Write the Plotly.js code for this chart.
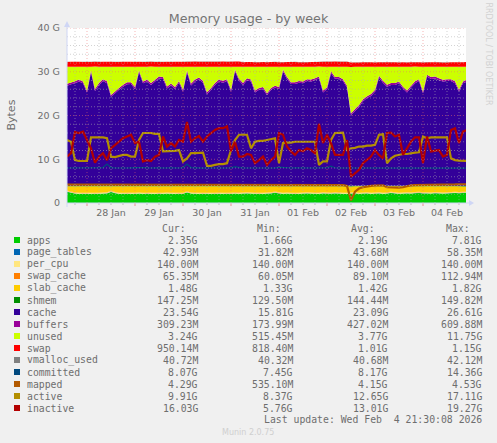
<!DOCTYPE html>
<html><head><meta charset="utf-8">
<script src="https://cdn.plot.ly/plotly-3.0.1.min.js"></script>
<style>html,body{margin:0;padding:0;background:#f0f0f0}</style>
</head><body><div id="chart" style="width:497px;height:443px"></div>
<script>
// values in GiB, one reading every two hours from 27 Jan 14:00
const apps=[2.6,2.35,2.15,2.1,2.05,2.1,2.1,2.05,2.1,2.15,
2.2,2.5,2.25,2.1,2.1,2.05,2.1,2.1,2.15,2.1,
2.05,2.1,2.1,2.05,2.1,2.15,2.1,2.1,2.05,2.1,
2.4,2.15,2.1,2.1,2.05,2.1,2.1,2.05,2.1,2.1,
2.05,2.1,2.15,2.1,2.15,2.2,2.15,2.1,2.05,2.1,
2.15,2.2,2.35,2.2,2.1,2.15,2.1,2.05,2.1,2.15,
2.2,2.15,2.1,2.1,2.2,2.15,2.1,2.2,2.15,2.1,
2.1,2.15,2.2,2.1,2.15,2.2,2.1,2.15,2.2,2.1,
2.15,2.3,2.2,2.1,2.15,2.2,2.15,2.25,2.3,2.2,
2.2,2.15,2.25,2.2,2.15,2.2,2.25,2.3,2.25,2.3,2.35];
const page_tables=[.04,.04,.04,.04,.04,.04,.04,.04,.04,.04,
.04,.05,.04,.04,.04,.04,.04,.04,.04,.04,
.04,.04,.04,.04,.04,.04,.04,.04,.04,.04,
.05,.04,.04,.04,.04,.04,.04,.04,.04,.04,
.04,.04,.05,.04,.04,.04,.04,.04,.04,.04,
.04,.04,.05,.04,.04,.04,.04,.04,.04,.04,
.04,.04,.04,.04,.04,.04,.05,.04,.04,.04,
.04,.03,.04,.04,.04,.04,.04,.04,.05,.04,
.04,.05,.04,.04,.04,.04,.04,.05,.04,.04,
.05,.04,.04,.04,.04,.04,.04,.05,.04,.04,.04];
const per_cpu=[.14,.14,.14,.14,.14,.14,.14,.14,.14,.14,
.14,.14,.14,.14,.14,.14,.14,.14,.14,.14,
.14,.14,.14,.14,.14,.14,.14,.14,.14,.14,
.14,.14,.14,.14,.14,.14,.14,.14,.14,.14,
.14,.14,.14,.14,.14,.14,.14,.14,.14,.14,
.14,.14,.14,.14,.14,.14,.14,.14,.14,.14,
.14,.14,.14,.14,.14,.14,.14,.14,.14,.14,
.14,.14,.14,.14,.14,.14,.14,.14,.14,.14,
.14,.14,.14,.14,.14,.14,.14,.14,.14,.14,
.14,.14,.14,.14,.14,.14,.14,.14,.14,.14,.14];
const swap_cache=[.09,.09,.1,.09,.09,.08,.09,.1,.09,.09,
.1,.09,.09,.08,.09,.09,.1,.09,.09,.08,
.09,.1,.09,.09,.08,.09,.09,.1,.09,.09,
.08,.09,.1,.09,.09,.08,.09,.09,.1,.09,
.09,.08,.09,.1,.09,.09,.09,.1,.09,.08,
.09,.09,.1,.09,.08,.09,.09,.1,.09,.09,
.08,.09,.1,.11,.09,.08,.09,.09,.1,.09,
.09,.07,.08,.09,.09,.1,.09,.08,.09,.09,
.1,.09,.09,.08,.09,.07,.09,.1,.09,.08,
.09,.09,.1,.09,.08,.09,.09,.07,.08,.07,.07];
const slab_cache=[.95,1.2,1.4,1.45,1.5,1.45,1.45,1.5,1.45,1.4,
1.35,1.05,1.3,1.45,1.45,1.5,1.45,1.45,1.4,1.45,
1.5,1.45,1.45,1.5,1.45,1.4,1.45,1.45,1.5,1.45,
1.15,1.4,1.45,1.45,1.5,1.45,1.45,1.5,1.45,1.45,
1.5,1.45,1.4,1.45,1.4,1.35,1.4,1.45,1.5,1.45,
1.4,1.35,1.2,1.35,1.45,1.4,1.45,1.5,1.45,1.4,
1.35,1.4,1.45,1.45,1.35,1.4,1.45,1.35,1.4,1.45,
1.45,1.4,1.35,1.45,1.4,1.35,1.45,1.4,1.35,1.45,
1.4,1.25,1.35,1.45,1.4,1.35,1.4,1.3,1.25,1.35,
1.35,1.4,1.3,1.35,1.4,1.35,1.3,1.25,1.3,1.25,1.2];
const shmem=[.14,.14,.14,.15,.14,.14,.14,.15,.14,.14,
.14,.15,.14,.14,.15,.14,.14,.14,.15,.14,
.14,.15,.14,.14,.14,.15,.14,.14,.15,.14,
.14,.14,.15,.14,.14,.15,.14,.14,.14,.15,
.14,.14,.15,.14,.14,.14,.15,.14,.14,.15,
.14,.14,.14,.15,.14,.14,.15,.14,.14,.14,
.15,.14,.14,.15,.14,.14,.14,.15,.14,.14,
.15,.13,.13,.14,.14,.14,.15,.14,.14,.15,
.14,.14,.14,.15,.14,.14,.15,.14,.14,.14,
.15,.14,.14,.15,.14,.14,.14,.15,.15,.15,.15];
const cache=[22.86,23.17,23.41,23.81,23.41,21.31,25.91,21.61,23.01,23.91,
23.41,20.31,21.11,21.91,22.61,23.21,23.21,22.11,25.91,23.41,
23.81,23.01,23.81,24.51,24.41,22.21,22.91,22.11,23.51,21.51,
25.91,22.91,23.81,24.31,23.51,20.91,21.91,23.01,23.81,23.51,
23.91,21.51,26.11,24.01,23.01,24.11,23.81,21.31,21.91,22.11,
20.71,21.91,22.41,22.11,26.11,24.41,23.21,23.21,23.51,23.41,
23.91,23.81,24.11,24.51,21.31,22.11,25.71,24.41,24.41,23.91,
22.41,16.11,17.11,18.01,19.31,20.01,20.51,21.51,24.71,23.51,
22.61,23.01,23.01,23.41,22.21,21.31,22.41,23.41,23.91,21.11,
24.91,24.41,24.51,24.11,23.81,23.91,23.91,23.41,21.51,23.41,23.81];
const buffers=[.43,.44,.43,.44,.43,.42,.43,.44,.43,.44,
.43,.42,.43,.44,.43,.44,.43,.42,.43,.44,
.43,.44,.43,.42,.43,.44,.43,.44,.43,.42,
.43,.44,.43,.44,.43,.42,.43,.44,.43,.44,
.43,.42,.43,.44,.43,.44,.43,.42,.43,.44,
.43,.44,.43,.42,.43,.44,.43,.44,.43,.42,
.43,.44,.43,.44,.43,.42,.43,.44,.43,.44,
.43,.42,.42,.42,.43,.44,.43,.42,.43,.44,
.43,.44,.43,.42,.43,.44,.43,.44,.43,.42,
.43,.44,.43,.44,.43,.42,.43,.44,.43,.44,.43];
const unused=[3.9,3.59,3.35,2.95,3.35,5.45,.85,5.15,3.75,2.85,
3.35,6.45,5.65,4.85,4.15,3.55,3.55,4.65,.85,3.35,
2.95,3.75,2.95,2.25,2.35,4.55,3.85,4.65,3.25,5.25,
.85,3.85,2.95,2.45,3.25,5.85,4.85,3.75,2.95,3.25,
2.85,5.25,.65,2.75,3.75,2.65,2.95,5.45,4.85,4.65,
6.05,4.85,4.35,4.65,.65,2.35,3.55,3.55,3.25,3.35,
2.85,2.95,2.65,2.25,5.45,4.65,1.05,2.35,2.35,2.85,
4.35,10.65,9.65,8.75,7.45,6.75,6.25,5.25,2.05,3.25,
4.15,3.75,3.75,3.35,4.55,5.45,4.35,3.35,2.85,5.65,
1.85,2.35,2.25,2.65,2.95,2.85,2.85,3.35,5.25,3.35,2.95];
const swap=[1.1,1.1,1.1,1.1,1.1,1.1,1.1,1.1,1.1,1.1,
1.1,1.1,1.1,1.1,1.1,1.1,1.1,1.1,1.1,1.1,
1.1,1.1,1.1,1.1,1.1,1.1,1.1,1.1,1.1,1.1,
1.15,1.15,1.15,1.15,1.15,1.15,1.15,1.15,1.15,1.15,
1.15,1.15,1.15,1.15,1.05,1.05,1.05,1.05,1.05,1.05,
1.05,1.05,1.05,1.05,1.05,1.05,1.05,1.05,1.05,1.05,
1.05,1.05,1.05,1.05,1.15,1.15,1.15,1.15,1.15,1.15,
1.15,1,1,1,1,1,1,1,1,1,
1,1,1,1,1,1,1,1,1,1,
1,1,1,1,1,1,1,1,1,1,1.1];
const vmalloc_used=[.04,.04,.04,.04,.04,.04,.04,.04,.04,.04,
.04,.04,.04,.04,.04,.04,.04,.04,.04,.04,
.04,.04,.04,.04,.04,.04,.04,.04,.04,.04,
.04,.04,.04,.04,.04,.04,.04,.04,.04,.04,
.04,.04,.04,.04,.04,.04,.04,.04,.04,.04,
.04,.04,.04,.04,.04,.04,.04,.04,.04,.04,
.04,.04,.04,.04,.04,.04,.04,.04,.04,.04,
.04,.04,.04,.04,.04,.04,.04,.04,.04,.04,
.04,.04,.04,.04,.04,.04,.04,.04,.04,.04,
.04,.04,.04,.04,.04,.04,.04,.04,.04,.04,.04];
const committed=[8,8,7.95,8,8,8.05,8,8,8,8.1,
8.9,8.1,8,7.95,8,8,8.05,8,8.1,8.1,
8,8,8.05,8,8,8,8.05,8,8,8.1,
8.9,8.1,8,8,7.95,8,8,8.05,8,8,
8,8.05,8.3,8.1,8,8,8,8,8.05,8,
8,8.05,8,8.2,8.1,8,8,8.05,8,8,
8.05,8,8,8,8,8.1,8.4,8.05,8,8,
8.05,8,8,8,7.95,8,8,8.05,8,8,
8,8,8,7.95,8,8.05,8,8,8,8,
8.05,8,8,7.95,8,8,7.95,8,8,7.95,7.95];
const mapped=[4.2,4.2,4.2,4.2,4.2,4.2,4.2,4.2,4.2,4.2,
4.2,4.2,4.2,4.2,4.2,4.2,4.2,4.2,4.2,4.2,
4.2,4.2,4.2,4.2,4.2,4.2,4.2,4.2,4.2,4.2,
4.2,4.2,4.2,4.2,4.2,4.05,4.05,4.05,4.05,4.05,
4.05,4.05,4.05,4.05,4.05,4.05,4.1,4.1,4.1,4.1,
4.1,4.1,4.1,4.1,4.1,4.1,4.1,4.2,4.2,4.2,
4.2,4.2,4.2,4.1,4.1,4.1,4.15,4.15,4.2,4.1,
3.9,.6,2.6,3.3,3.6,3.8,3.9,4,4.05,4.05,
3.6,3.55,3.55,3.5,3.6,3.9,4.05,4.1,4.1,4.2,
4.1,4.1,4.1,4.1,4.1,4.25,4.25,4.25,4.29,4.29,4.29];
const active=[14.4,14,9.8,9.6,9.6,9.6,15,15,15,15,
14.8,10.6,10.5,10.8,11,11,10.6,10.6,14.4,16,
16,16,15.8,15.8,11.8,11.8,11.9,11.9,12.1,9.5,
10.2,11.4,11.4,11.5,11.5,8.5,8.5,8.7,8.9,8.9,
9.1,12.1,14.4,15.6,15.6,15.6,12.5,14,14.2,14.2,
14.4,14.6,14.8,9.1,13.7,13.8,13.8,14,14,14,
14,14,14,8.7,9.5,9.5,14.4,16,16,16.1,
12.1,12.5,12.6,12.9,12.9,13.1,13.1,13.3,15.6,15.7,
9.1,10.2,10.8,11,11.2,11.2,11.4,11.5,11.6,15.2,
14.8,15,15,15,15,15,10.2,9.8,9.7,9.7,9.6];
const inactive=[10.6,11.4,16.2,16,16.3,14.4,12.5,9.2,10.6,11.4,
9.8,12.5,13.3,14,14.8,15.2,15.6,13.7,14,9.5,
9.8,9.6,10.6,11,15.2,12.9,13.7,12.9,14.4,14,
18.5,14,14.8,15.3,14,15.2,16,16.7,17.1,17.1,
17.5,11.8,14,10.6,10.6,11.2,11,9.1,9.8,10.6,
8.7,9.8,10.6,16,15.6,12.9,11.8,11,12.1,11.8,
12.5,12.1,11.4,18.1,13.7,15.6,13.7,11,11,11,
14.4,6,6.8,7.6,9.1,9.8,10.6,12.1,11,10.2,
16,16.1,15.2,15.6,11,12.5,14,15,15,9.1,
15.2,11.8,12,12.1,10.6,11,16.7,17.1,13.7,16.3,16.7];

const legendNames=["apps","page_tables","per_cpu","swap_cache","slab_cache","shmem","cache","buffers","unused","swap","vmalloc_used","committed","mapped","active","inactive"];
const legendColors=["#00CC00","#0066B3","#FFE680","#FF8000","#FFCC00","#008F00","#330099","#990099","#CCFF00","#FF0000","#808080","#00487D","#B35A00","#B38F00","#B30000"];
const curCol=["2.35G","42.93M","140.00M","65.35M","1.48G","147.25M","23.54G","309.23M","3.24G","950.14M","40.72M","8.07G","4.29G","9.91G","16.03G"];
const minCol=["1.66G","31.82M","140.00M","60.05M","1.33G","129.50M","15.81G","173.99M","515.45M","818.40M","40.32M","7.45G","535.10M","8.37G","5.76G"];
const avgCol=["2.19G","43.68M","140.00M","89.10M","1.42G","144.44M","23.09G","427.02M","3.77G","1.01G","40.68M","8.17G","4.15G","12.65G","13.01G"];
const maxCol=["7.81G","58.35M","140.00M","112.94M","1.82G","149.82M","26.61G","609.88M","11.75G","1.15G","42.12M","14.36G","4.53G","17.11G","19.27G"];
const yTickVals=[0,10,20,30,40];
const yTickText=["0","10 G","20 G","30 G","40 G"];
const dayLabels=["28 Jan","29 Jan","30 Jan","31 Jan","01 Feb","02 Feb","03 Feb","04 Feb"];
const dayNoons=["2026-01-28 12:00","2026-01-29 12:00","2026-01-30 12:00","2026-01-31 12:00","2026-02-01 12:00","2026-02-02 12:00","2026-02-03 12:00","2026-02-04 12:00"];

const HOUR=3600000, t0=Date.UTC(2026,0,27,14), tEnd=t0+199.5*HOUR;
const times=apps.map((_,i)=>t0+i*2*HOUR);

const W=497,H=443,L=67,R=466,T=28,B=203;
const px=x=>(x-L)/(R-L), py=y=>(B-y)/(B-T);

const stacked=[apps,page_tables,per_cpu,swap_cache,slab_cache,shmem,cache,buffers,unused,swap,vmalloc_used];
const lines=[committed,mapped,active,inactive];
const traces=[];
stacked.forEach((s,i)=>traces.push({x:times,y:s,type:"scatter",mode:"none",stackgroup:"mem",stackgaps:"interpolate",
  fillcolor:legendColors[i],name:legendNames[i],hoverinfo:"skip"}));
lines.forEach((s,i)=>traces.push({x:times,y:s,type:"scatter",mode:"lines",
  line:{color:legendColors[11+i],width:i===0?1.2:2.2},name:legendNames[11+i],hoverinfo:"skip"}));

const shapes=[];
const redGrid="rgba(235,110,110,0.5)", grayGrid="rgba(175,175,175,0.55)";
const fine="1px,2px";
for(let t=Date.UTC(2026,0,27,18);t<tEnd;t+=6*HOUR){
  const midnight=new Date(t).getUTCHours()===0;
  shapes.push({type:"line",layer:"above",xref:"x",yref:"paper",x0:t,x1:t,y0:0,y1:1,
    line:{color:midnight?redGrid:grayGrid,width:1,dash:fine}});
  shapes.push({type:"line",layer:"above",xref:"x",yref:"paper",x0:t,x1:t,y0:py(midnight?206:205),y1:0,
    line:{color:midnight?"#e89090":"#bbbbbb",width:1}});
}
for(let v=2;v<=40;v+=2){
  shapes.push({type:"line",layer:"above",xref:"paper",yref:"y",x0:0,x1:1,y0:v,y1:v,
    line:{color:v%10===0?redGrid:grayGrid,width:1,dash:fine}});
}
// axis lines with arrow heads
const axisBlue="#cfd6f5";
shapes.push({type:"line",layer:"above",xref:"paper",yref:"paper",x0:0,x1:0,y0:py(207),y1:py(24),line:{color:axisBlue,width:1}});
shapes.push({type:"line",layer:"above",xref:"paper",yref:"paper",x0:0,x1:px(470),y0:0,y1:0,line:{color:axisBlue,width:1}});
shapes.push({type:"path",layer:"above",xref:"paper",yref:"paper",fillcolor:axisBlue,line:{width:0},
  path:`M ${px(64)} ${py(27)} L ${px(70)} ${py(27)} L ${px(67)} ${py(21)} Z`});
shapes.push({type:"path",layer:"above",xref:"paper",yref:"paper",fillcolor:axisBlue,line:{width:0},
  path:`M ${px(469)} ${py(200)} L ${px(469)} ${py(206)} L ${px(474)} ${py(203)} Z`});

const mono="'DejaVu Sans Mono', monospace", sans="'DejaVu Sans', sans-serif", textCol="#6e6e6e";
const ann=[];
const addText=(text,x,y,anchor,opts={})=>ann.push(Object.assign({text,x:px(x),y:py(y),xref:"paper",yref:"paper",showarrow:false,
  xanchor:anchor,yanchor:"middle",borderpad:0,font:{family:mono,size:9.8,color:textCol}},opts));
addText("Cur:",186.5,228,"right");addText("Min:",281.5,228,"right");addText("Avg:",376,228,"right");addText("Max:",470.5,228,"right");
legendNames.forEach((n,i)=>{
  const y=240+12*i;
  addText(n,26,y,"left");
  addText(curCol[i],198.5,y,"right");
  addText(minCol[i],293.5,y,"right");
  addText(avgCol[i],388.5,y,"right");
  addText(maxCol[i],483,y,"right");
  shapes.push({type:"rect",xref:"paper",yref:"paper",x0:px(14),x1:px(20),y0:py(y-3),y1:py(y+3),fillcolor:legendColors[i],line:{width:0},layer:"above"});
});
addText("Last update: Wed Feb&nbsp;&nbsp;4 21:30:08 2026",483,419.5,"right");
addText("Munin 2.0.75",248,432,"center",{font:{family:sans,size:8,color:"#cfcfcf"}});
addText("Bytes",10.5,115,"center",{textangle:-90,font:{family:sans,size:11,color:textCol}});
addText("RRDTOOL / TOBI OETIKER",488,53.5,"center",{textangle:90,font:{family:sans,size:8,color:"#d2d2d2"}});

const layout={width:W,height:H,autosize:false,showlegend:false,
  paper_bgcolor:"#f0f0f0",plot_bgcolor:"#ffffff",
  margin:{l:L,r:W-R,t:T,b:H-B,pad:0},
  title:{text:"Memory usage - by week",x:248.5/W,xanchor:"center",y:1-19/H,yanchor:"middle",font:{family:sans,size:12.7,color:"#747474"}},
  xaxis:{type:"date",range:[t0,tEnd],tickmode:"array",tickvals:dayNoons,ticktext:dayLabels,ticks:"",showgrid:false,zeroline:false,showline:false,
    tickfont:{family:sans,size:9.5,color:textCol},ticklabelstandoff:2},
  yaxis:{range:[0,40],tickmode:"array",tickvals:yTickVals,ticktext:yTickText,ticks:"",showgrid:false,zeroline:false,showline:false,
    tickfont:{family:sans,size:9.5,color:textCol},ticklabelstandoff:6},
  shapes,annotations:ann};
Plotly.newPlot("chart",traces,layout,{displayModeBar:false,staticPlot:true});
</script></body></html>
